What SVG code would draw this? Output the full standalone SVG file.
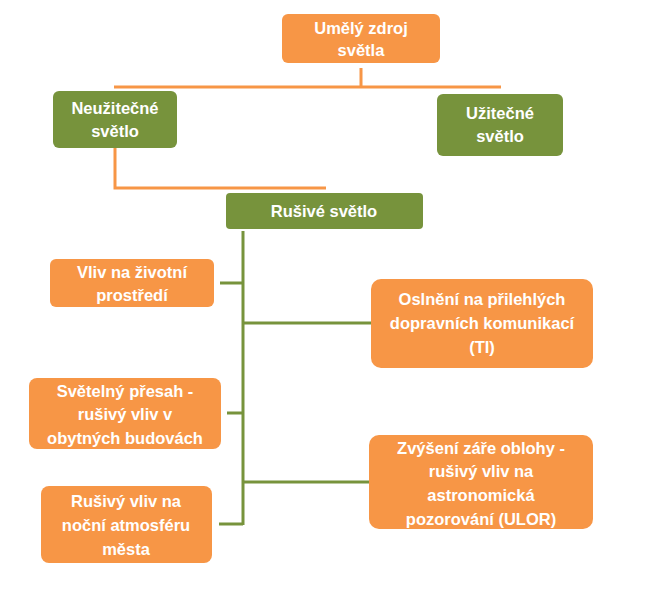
<svg xmlns="http://www.w3.org/2000/svg" width="656" height="596" viewBox="0 0 656 596">
<style>
.o{fill:#F79646}.g{fill:#77933C}
text{font-family:"Liberation Sans",Arial,sans-serif;font-weight:bold;font-size:16.5px;fill:#fff;text-anchor:middle}
.co{stroke:#F79646;stroke-width:3;fill:none}.cg{stroke:#77933C;stroke-width:3;fill:none}
</style>
<rect width="656" height="596" fill="#fff"/>
<g id="connectors">
<path class="co" d="M361 68V87M114 87H501"/>
<path class="co" d="M115 148V188H326"/>
<path class="cg" d="M243 231V525M220 283H243M243 323H371M227 413H243M243 482H369M219 524H243"/>
</g>
<g id="n1"><rect class="o" x="282" y="14" width="158" height="49" rx="6"/><text x="361" y="34">Umělý zdroj</text><text x="361" y="56">světla</text></g>
<g id="n2"><rect class="g" x="53" y="91" width="124" height="57" rx="6"/><text x="115" y="114">Neužitečné</text><text x="115" y="137">světlo</text></g>
<g id="n3"><rect class="g" x="437" y="94" width="126" height="62" rx="6"/><text x="500" y="119">Užitečné</text><text x="500" y="142">světlo</text></g>
<g id="n4"><rect class="g" x="226" y="193" width="197" height="36" rx="4"/><text x="324" y="217">Rušivé světlo</text></g>
<g id="n5"><rect class="o" x="50" y="259" width="164" height="48" rx="6"/><text x="132" y="278">Vliv na životní</text><text x="132" y="301">prostředí</text></g>
<g id="n6"><rect class="o" x="371" y="279" width="222" height="89" rx="10"/><text x="482" y="305">Oslnění na přilehlých</text><text x="482" y="329">dopravních komunikací</text><text x="482" y="353">(TI)</text></g>
<g id="n7"><rect class="o" x="29" y="378" width="192" height="71" rx="8"/><text x="125" y="397">Světelný přesah -</text><text x="125" y="420">rušivý vliv v</text><text x="125" y="444">obytných budovách</text></g>
<g id="n8"><rect class="o" x="369" y="435" width="224" height="94" rx="10"/><text x="481" y="454">Zvýšení záře oblohy -</text><text x="481" y="477">rušivý vliv na</text><text x="481" y="501">astronomická</text><text x="481" y="525">pozorování (ULOR)</text></g>
<g id="n9"><rect class="o" x="41" y="486" width="171" height="77" rx="8"/><text x="126" y="507">Rušivý vliv na</text><text x="126" y="531">noční atmosféru</text><text x="126" y="555">města</text></g>
</svg>
